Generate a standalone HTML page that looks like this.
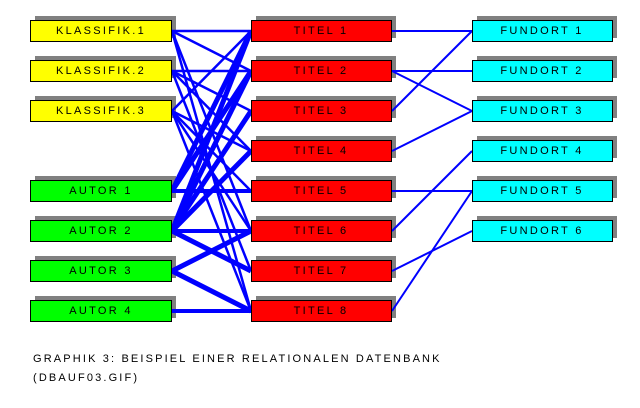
<!DOCTYPE html>
<html>
<head>
<meta charset="utf-8">
<style>
  html,body{margin:0;padding:0;background:#fff;}
  svg{display:block;}
  text{font-family:"Liberation Sans",Arial,sans-serif;font-size:11px;letter-spacing:2.3px;fill:#000;}
  text.cap{letter-spacing:2.15px;}
</style>
</head>
<body>
<svg width="640" height="408" viewBox="0 0 640 408" xmlns="http://www.w3.org/2000/svg">
  <rect x="0" y="0" width="640" height="408" fill="#fff"/>

  <!-- shadows -->
  <g fill="#808080">
    <rect x="35" y="16" width="141" height="22"/>
    <rect x="35" y="56" width="141" height="22"/>
    <rect x="35" y="96" width="141" height="22"/>
    <rect x="35" y="176" width="141" height="22"/>
    <rect x="35" y="216" width="141" height="22"/>
    <rect x="35" y="256" width="141" height="22"/>
    <rect x="35" y="296" width="141" height="22"/>

    <rect x="256" y="16" width="140" height="22"/>
    <rect x="256" y="56" width="140" height="22"/>
    <rect x="256" y="96" width="140" height="22"/>
    <rect x="256" y="136" width="140" height="22"/>
    <rect x="256" y="176" width="140" height="22"/>
    <rect x="256" y="216" width="140" height="22"/>
    <rect x="256" y="256" width="140" height="22"/>
    <rect x="256" y="296" width="140" height="22"/>

    <rect x="477" y="16" width="140" height="22"/>
    <rect x="477" y="56" width="140" height="22"/>
    <rect x="477" y="96" width="140" height="22"/>
    <rect x="477" y="136" width="140" height="22"/>
    <rect x="477" y="176" width="140" height="22"/>
    <rect x="477" y="216" width="140" height="22"/>
  </g>

  <!-- thin classification lines -->
  <g stroke="#0000ff" stroke-width="2.5" fill="none">
    <line x1="172" y1="31" x2="251" y2="31"/>
    <line x1="172" y1="31" x2="251" y2="71"/>
    <line x1="172" y1="31" x2="251" y2="231"/>
    <line x1="172" y1="31" x2="251" y2="311"/>

    <line x1="172" y1="71" x2="251" y2="71"/>
    <line x1="172" y1="71" x2="251" y2="111"/>
    <line x1="172" y1="71" x2="251" y2="151"/>
    <line x1="172" y1="71" x2="251" y2="271"/>

    <line x1="172" y1="111" x2="251" y2="31"/>
    <line x1="172" y1="111" x2="251" y2="151"/>
    <line x1="172" y1="111" x2="251" y2="191"/>
    <line x1="172" y1="111" x2="251" y2="231"/>
    <line x1="172" y1="111" x2="251" y2="311"/>
  </g>

  <!-- thick author lines -->
  <g stroke="#0000ff" stroke-width="5" fill="none">
    <line x1="172" y1="191" x2="251" y2="31"/>
    <line x1="172" y1="191" x2="251" y2="71"/>
    <line x1="172" y1="231" x2="251" y2="31"/>
    <line x1="172" y1="231" x2="251" y2="71"/>
    <line x1="172" y1="231" x2="251" y2="111"/>
    <line x1="172" y1="231" x2="251" y2="151"/>
    <line x1="172" y1="231" x2="251" y2="271"/>
    <line x1="172" y1="271" x2="251" y2="231"/>
    <line x1="172" y1="271" x2="251" y2="311"/>
  </g>
  <g stroke="#0000ff" stroke-width="4" fill="none">
    <line x1="172" y1="191" x2="251" y2="191"/>
    <line x1="172" y1="231" x2="251" y2="231"/>
    <line x1="172" y1="311" x2="251" y2="311"/>
  </g>

  <!-- fundort lines -->
  <g stroke="#0000ff" stroke-width="2" fill="none">
    <line x1="392" y1="31" x2="472" y2="31"/>
    <line x1="392" y1="71" x2="472" y2="71"/>
    <line x1="392" y1="71" x2="472" y2="111"/>
    <line x1="392" y1="111" x2="472" y2="31"/>
    <line x1="392" y1="151" x2="472" y2="111"/>
    <line x1="392" y1="191" x2="472" y2="191"/>
    <line x1="392" y1="231" x2="472" y2="151"/>
    <line x1="392" y1="271" x2="472" y2="231"/>
    <line x1="392" y1="311" x2="472" y2="191"/>
  </g>

  <!-- boxes -->
  <g stroke="#000" stroke-width="1">
    <rect x="30.5" y="20.5" width="141" height="21" fill="#ffff00"/>
    <rect x="30.5" y="60.5" width="141" height="21" fill="#ffff00"/>
    <rect x="30.5" y="100.5" width="141" height="21" fill="#ffff00"/>
    <rect x="30.5" y="180.5" width="141" height="21" fill="#00ff00"/>
    <rect x="30.5" y="220.5" width="141" height="21" fill="#00ff00"/>
    <rect x="30.5" y="260.5" width="141" height="21" fill="#00ff00"/>
    <rect x="30.5" y="300.5" width="141" height="21" fill="#00ff00"/>

    <rect x="251.5" y="20.5" width="140" height="21" fill="#ff0000"/>
    <rect x="251.5" y="60.5" width="140" height="21" fill="#ff0000"/>
    <rect x="251.5" y="100.5" width="140" height="21" fill="#ff0000"/>
    <rect x="251.5" y="140.5" width="140" height="21" fill="#ff0000"/>
    <rect x="251.5" y="180.5" width="140" height="21" fill="#ff0000"/>
    <rect x="251.5" y="220.5" width="140" height="21" fill="#ff0000"/>
    <rect x="251.5" y="260.5" width="140" height="21" fill="#ff0000"/>
    <rect x="251.5" y="300.5" width="140" height="21" fill="#ff0000"/>

    <rect x="472.5" y="20.5" width="140" height="21" fill="#00ffff"/>
    <rect x="472.5" y="60.5" width="140" height="21" fill="#00ffff"/>
    <rect x="472.5" y="100.5" width="140" height="21" fill="#00ffff"/>
    <rect x="472.5" y="140.5" width="140" height="21" fill="#00ffff"/>
    <rect x="472.5" y="180.5" width="140" height="21" fill="#00ffff"/>
    <rect x="472.5" y="220.5" width="140" height="21" fill="#00ffff"/>
  </g>

  <!-- labels -->
  <g text-anchor="middle">
    <text x="101" y="34">KLASSIFIK.1</text>
    <text x="101" y="74">KLASSIFIK.2</text>
    <text x="101" y="114">KLASSIFIK.3</text>
    <text x="101" y="194">AUTOR 1</text>
    <text x="101" y="234">AUTOR 2</text>
    <text x="101" y="274">AUTOR 3</text>
    <text x="101" y="314">AUTOR 4</text>

    <text x="321" y="34">TITEL 1</text>
    <text x="321" y="74">TITEL 2</text>
    <text x="321" y="114">TITEL 3</text>
    <text x="321" y="154">TITEL 4</text>
    <text x="321" y="194">TITEL 5</text>
    <text x="321" y="234">TITEL 6</text>
    <text x="321" y="274">TITEL 7</text>
    <text x="321" y="314">TITEL 8</text>

    <text x="542" y="34">FUNDORT 1</text>
    <text x="542" y="74">FUNDORT 2</text>
    <text x="542" y="114">FUNDORT 3</text>
    <text x="542" y="154">FUNDORT 4</text>
    <text x="542" y="194">FUNDORT 5</text>
    <text x="542" y="234">FUNDORT 6</text>
  </g>

  <!-- caption -->
  <text class="cap" x="33" y="362">GRAPHIK 3: BEISPIEL EINER RELATIONALEN DATENBANK</text>
  <text class="cap" x="33" y="381">(DBAUF03.GIF)</text>
</svg>
</body>
</html>
